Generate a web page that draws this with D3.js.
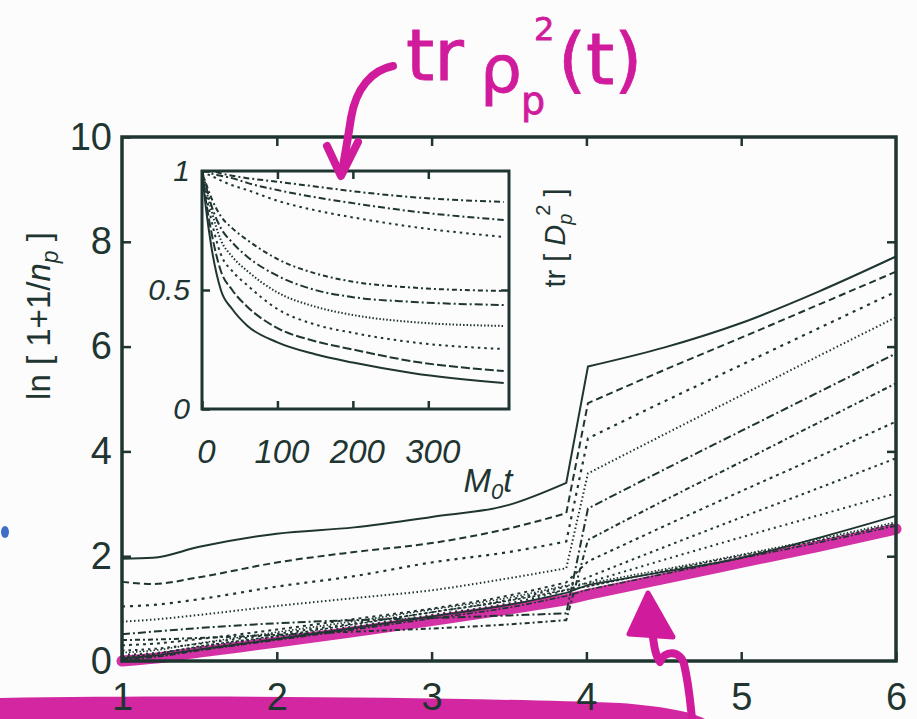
<!DOCTYPE html>
<html>
<head>
<meta charset="utf-8">
<script src="https://cdn.jsdelivr.net/npm/d3@7"></script>
<style>
  body { margin: 0; background: #fcfcfc; }
  svg { display: block; }
</style>
</head>
<body>
<div id="chart"></div>
<script>
// main plot, shared abscissa for every curve (jump between 3.87 and 4.01)
var xGrid = [1, 1.2, 1.5, 2, 2.5, 3, 3.5, 3.87, 4.01, 4.5, 5, 5.5, 6];
var line1 = [1.95, 1.97, 2.18, 2.43, 2.55, 2.75, 2.98, 3.40, 5.62, 5.98, 6.45, 7.05, 7.72];
var line2 = [1.51, 1.47, 1.60, 1.88, 2.08, 2.25, 2.53, 2.82, 4.92, 5.55, 6.17, 6.80, 7.43];
var line3 = [1.04, 1.07, 1.18, 1.42, 1.62, 1.88, 2.08, 2.28, 4.25, 4.95, 5.65, 6.35, 7.05];
var line4 = [0.75, 0.79, 0.88, 1.05, 1.20, 1.35, 1.58, 1.77, 3.58, 4.32, 5.07, 5.82, 6.56];
var line5 = [0.51, 0.56, 0.63, 0.72, 0.78, 0.82, 0.87, 0.91, 2.91, 3.65, 4.39, 5.13, 5.87];
var line6 = [0.40, 0.41, 0.44, 0.50, 0.56, 0.62, 0.70, 0.78, 2.31, 3.06, 3.80, 4.55, 5.30];
var line7 = [0.30, 0.33, 0.42, 0.60, 0.80, 1.00, 1.25, 1.50, 1.90, 2.57, 3.24, 3.90, 4.57];
var line8 = [0.20, 0.23, 0.33, 0.52, 0.72, 0.93, 1.17, 1.42, 1.60, 2.17, 2.74, 3.30, 3.87];
var line9 = [0.12, 0.15, 0.26, 0.46, 0.66, 0.88, 1.10, 1.35, 1.50, 1.93, 2.36, 2.78, 3.20];
var line10 = [0.05, 0.10, 0.22, 0.42, 0.63, 0.85, 1.07, 1.30, 1.45, 1.70, 1.97, 2.35, 2.77];
var bundleA = [0.08, 0.13, 0.28, 0.48, 0.70, 0.93, 1.15, 1.36, 1.42, 1.72, 2.01, 2.30, 2.62];
var bundleB = [0.16, 0.20, 0.34, 0.55, 0.76, 0.98, 1.21, 1.44, 1.48, 1.75, 2.03, 2.33, 2.65];
var bundleC = [0.02, 0.07, 0.20, 0.40, 0.60, 0.81, 1.02, 1.24, 1.36, 1.66, 1.96, 2.26, 2.58];
var highlight = [0.00, 0.05, 0.17, 0.36, 0.56, 0.77, 0.99, 1.17, 1.27, 1.57, 1.88, 2.19, 2.52];

// inset tr[Dp^2] vs M0 t
var insetT = [0, 5, 12, 25, 40, 60, 100, 150, 200, 280, 400];
var insetA = [1, 1, 1, 0.99, 0.98, 0.97, 0.955, 0.935, 0.915, 0.89, 0.87];
var insetB = [1, 1, 0.99, 0.98, 0.97, 0.95, 0.92, 0.89, 0.865, 0.83, 0.794];
var insetC = [1, 0.99, 0.98, 0.96, 0.94, 0.92, 0.875, 0.835, 0.805, 0.765, 0.723];
var insetD = [1, 0.95, 0.89, 0.81, 0.76, 0.71, 0.63, 0.57, 0.535, 0.51, 0.496];
var insetE = [1, 0.94, 0.86, 0.76, 0.70, 0.64, 0.56, 0.50, 0.47, 0.45, 0.437];
var insetF = [1, 0.93, 0.84, 0.71, 0.64, 0.58, 0.49, 0.43, 0.395, 0.365, 0.349];
var insetG = [1, 0.91, 0.80, 0.65, 0.58, 0.52, 0.42, 0.355, 0.32, 0.28, 0.252];
var insetH = [1, 0.88, 0.75, 0.58, 0.50, 0.43, 0.34, 0.285, 0.25, 0.20, 0.16];
var insetI = [1, 0.85, 0.69, 0.50, 0.42, 0.35, 0.28, 0.23, 0.195, 0.15, 0.109];

var xTicks = [1, 2, 3, 4, 5, 6];
var yTicks = [0, 2, 4, 6, 8, 10];
var insetXTicks = [0, 100, 200, 300];
var insetYTicks = [0, 0.5, 1];

var W = 917, H = 719;
var ink = "#1f3531";
var pen = "#d01b9c";
var font = "Liberation Sans, Arial, sans-serif";
var JUMP = 8; // index of first point after the jump

var svg = d3.select("#chart").append("svg")
    .attr("width", W)
    .attr("height", H);

svg.append("rect").attr("width", W).attr("height", H).attr("fill", "#fcfcfc");

// marker stroke along the bottom edge, under the tick labels
svg.append("path")
    .attr("d", "M0,698 C200,695 450,697 620,703 C660,706 690,711 705,719 L0,719 Z")
    .attr("fill", pen).attr("opacity", 0.95);

var x = d3.scaleLinear().domain([1, 6]).range([122, 896]);
var y = d3.scaleLinear().domain([0, 10]).range([661, 137]);
var ix = d3.scaleLinear().domain([0, 407]).range([202, 509]);
var iy = d3.scaleLinear().domain([0, 1]).range([409, 171]);

var fmt = d3.format("~g");

function styleAxis(g, size, italic) {
    g.select(".domain").remove();
    g.selectAll(".tick line").attr("stroke", ink).attr("stroke-width", 2.5);
    g.selectAll(".tick text")
        .attr("fill", ink)
        .attr("font-family", font)
        .attr("font-size", size)
        .attr("font-style", italic ? "italic" : "normal");
}

// MAIN AXES
svg.append("g").attr("transform", "translate(0,661)")
    .call(d3.axisBottom(x).tickValues(xTicks).tickFormat(fmt).tickSizeInner(-9).tickSizeOuter(0).tickPadding(22))
    .call(styleAxis, 38, false);
svg.append("g").attr("transform", "translate(122,0)")
    .call(d3.axisLeft(y).tickValues(yTicks).tickFormat(fmt).tickSizeInner(-9).tickSizeOuter(0).tickPadding(10))
    .call(styleAxis, 38, false);
svg.append("g").attr("transform", "translate(0,137)")
    .call(d3.axisTop(x).tickValues([2, 3, 4, 5]).tickSizeInner(-9).tickSizeOuter(0).tickFormat(""))
    .call(styleAxis, 30, false);
svg.append("g").attr("transform", "translate(896,0)")
    .call(d3.axisRight(y).tickValues([2, 4, 6, 8]).tickSizeInner(-9).tickSizeOuter(0).tickFormat(""))
    .call(styleAxis, 30, false);

// MAIN CURVES
var mainLine = d3.line()
    .x(function(d) { return x(d[0]); })
    .y(function(d) { return y(d[1]); })
    .curve(d3.curveMonotoneX);

function pairs(xs, ys) {
    return xs.map(function(v, i) { return [v, ys[i]]; });
}

// smooth before and after the jump, straight across it
function jumpPath(ys) {
    var p = pairs(xGrid, ys);
    var pre = mainLine(p.slice(0, JUMP));
    var post = mainLine(p.slice(JUMP));
    return pre + "L" + post.slice(1);
}

// highlighter stroke under the bundle
svg.append("path")
    .attr("d", jumpPath(highlight))
    .attr("fill", "none")
    .attr("stroke", pen)
    .attr("stroke-width", 11)
    .attr("stroke-linecap", "round")
    .attr("stroke-linejoin", "round")
    .attr("opacity", 0.9);

var mainCurves = [
    {v: bundleA, dash: "3,2", w: 1.6},
    {v: bundleB, dash: "1.5,2", w: 1.6},
    {v: bundleC, dash: "6,2,2,2", w: 1.6},
    {v: line10, dash: null, w: 1.8},
    {v: line9, dash: "2,4", w: 2},
    {v: line8, dash: "2.5,4", w: 2},
    {v: line7, dash: "3,4", w: 2},
    {v: line6, dash: "5,3,2,3", w: 2},
    {v: line5, dash: "8,3,2,3", w: 2},
    {v: line4, dash: "1.5,2.5", w: 2},
    {v: line3, dash: "3,5", w: 2.2},
    {v: line2, dash: "7,4", w: 2},
    {v: line1, dash: null, w: 2}
];

svg.append("g").selectAll("path")
    .data(mainCurves)
    .enter().append("path")
    .attr("d", function(d) { return jumpPath(d.v); })
    .attr("fill", "none")
    .attr("stroke", ink)
    .attr("stroke-width", function(d) { return d.w; })
    .attr("stroke-dasharray", function(d) { return d.dash; });

svg.append("rect")
    .attr("x", 122).attr("y", 137)
    .attr("width", 774).attr("height", 524)
    .attr("fill", "none").attr("stroke", ink).attr("stroke-width", 3.5);

// INSET
svg.append("rect")
    .attr("x", 202).attr("y", 171)
    .attr("width", 307).attr("height", 238)
    .attr("fill", "#fcfcfc");

var insetLine = d3.line()
    .x(function(d) { return ix(d[0]); })
    .y(function(d) { return iy(d[1]); })
    .curve(d3.curveMonotoneX);

var insetCurves = [
    {v: insetA, dash: "6,3,2,3"},
    {v: insetB, dash: "7,3,2,3"},
    {v: insetC, dash: "2.5,4"},
    {v: insetD, dash: "5,3,2,3"},
    {v: insetE, dash: "8,3,2,3"},
    {v: insetF, dash: "1.5,2"},
    {v: insetG, dash: "2.5,4"},
    {v: insetH, dash: "9,3"},
    {v: insetI, dash: null}
];

svg.append("g").selectAll("path")
    .data(insetCurves)
    .enter().append("path")
    .attr("d", function(d) { return insetLine(pairs(insetT, d.v)); })
    .attr("fill", "none")
    .attr("stroke", ink)
    .attr("stroke-width", 2)
    .attr("stroke-dasharray", function(d) { return d.dash; });

var gIx = svg.append("g").attr("transform", "translate(0,409)")
    .call(d3.axisBottom(ix).tickValues(insetXTicks).tickFormat(fmt).tickSizeInner(-8).tickSizeOuter(0).tickPadding(31))
    .call(styleAxis, 33, true);
gIx.selectAll(".tick text").attr("x", 4);
svg.append("g").attr("transform", "translate(0,171)")
    .call(d3.axisTop(ix).tickValues([100, 200, 300]).tickSizeInner(-8).tickSizeOuter(0).tickFormat(""))
    .call(styleAxis, 30, true);
svg.append("g").attr("transform", "translate(202,0)")
    .call(d3.axisLeft(iy).tickValues(insetYTicks).tickFormat(fmt).tickSizeInner(-8).tickSizeOuter(0).tickPadding(12))
    .call(styleAxis, 30, true);
svg.append("g").attr("transform", "translate(509,0)")
    .call(d3.axisRight(iy).tickValues([0.5]).tickSizeInner(-8).tickSizeOuter(0).tickFormat(""))
    .call(styleAxis, 30, true);

svg.append("rect")
    .attr("x", 202).attr("y", 171)
    .attr("width", 307).attr("height", 238)
    .attr("fill", "none").attr("stroke", ink).attr("stroke-width", 3);

// LABELS
var mt = svg.append("text")
    .attr("x", 488).attr("y", 492)
    .attr("text-anchor", "middle")
    .attr("font-family", font).attr("font-size", 33)
    .attr("font-style", "italic").attr("fill", ink);
mt.append("tspan").text("M");
mt.append("tspan").attr("font-size", 22).attr("dy", 7).text("0");
mt.append("tspan").attr("dy", -7).text("t");

var yl = svg.append("text")
    .attr("transform", "translate(50,316) rotate(-90)")
    .attr("text-anchor", "middle")
    .attr("font-family", font).attr("font-size", 33)
    .attr("fill", ink);
yl.append("tspan").text("ln [ 1+1/");
yl.append("tspan").attr("font-style", "italic").text("n");
yl.append("tspan").attr("font-style", "italic").attr("font-size", 23).attr("dy", 8).text("p");
yl.append("tspan").attr("dy", -8).text(" ]");

var il = svg.append("text")
    .attr("transform", "translate(565,238) rotate(-90)")
    .attr("text-anchor", "middle")
    .attr("font-family", font).attr("font-size", 29)
    .attr("fill", ink);
il.append("tspan").text("tr [ ");
il.append("tspan").attr("font-style", "italic").text("D");
il.append("tspan").attr("font-style", "italic").attr("font-size", 20).attr("dy", 7).text("p");
il.append("tspan").attr("font-size", 20).attr("dx", -2).attr("dy", -22).text("2");
il.append("tspan").attr("dy", 15).text(" ]");

// HANDWRITTEN NOTES
var hand = svg.append("g")
    .attr("fill", pen)
    .attr("stroke", pen)
    .attr("font-family", "DejaVu Sans, sans-serif");
hand.append("text").attr("x", 406).attr("y", 80).attr("font-size", 72).attr("stroke-width", 0.8).text("tr");
hand.append("text").attr("x", 480).attr("y", 92).attr("font-size", 66).attr("stroke-width", 0.8).text("ρ");
hand.append("text").attr("x", 521).attr("y", 114).attr("font-size", 38).attr("stroke-width", 0.8).text("p");
hand.append("text").attr("x", 534).attr("y", 40).attr("font-size", 32).attr("stroke-width", 0.8).text("2");
hand.append("text").attr("x", 558).attr("y", 84).attr("font-size", 72).attr("stroke-width", 0.8).text("(t)");

var curvy = svg.append("g").attr("fill", "none").attr("stroke", pen)
    .attr("stroke-width", 8).attr("stroke-linecap", "round").attr("stroke-linejoin", "round");
curvy.append("path").attr("d", "M393,66 C372,70 356,88 351,118 C348,138 345,155 342,172");
curvy.append("path").attr("d", "M327,146 L341,176 L358,142");
curvy.append("path").attr("d", "M652,630 C654,645 655,655 660,662 C664,650 680,650 684,664 C689,685 690,700 692,719");

svg.append("path")
    .attr("d", "M648,593 L629,634 L673,637 Z")
    .attr("fill", pen).attr("stroke", pen).attr("stroke-width", 5).attr("stroke-linejoin", "round");

svg.append("ellipse")
    .attr("cx", 5).attr("cy", 532).attr("rx", 4).attr("ry", 6)
    .attr("fill", "#3e6fc6");
</script>
</body>
</html>
